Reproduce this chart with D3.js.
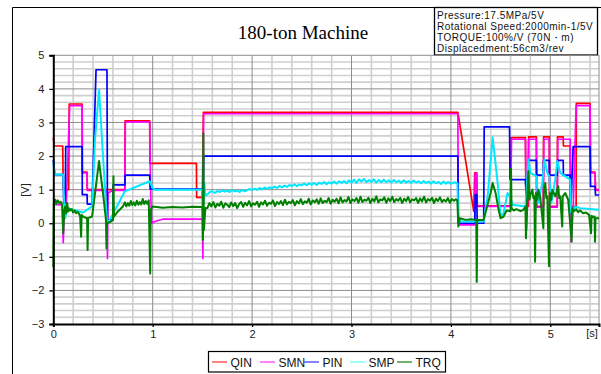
<!DOCTYPE html>
<head>
  <meta charset="utf-8">
  <script src="https://d3js.org/d3.v7.min.js"></script>
  <style>
  body { margin: 0; background: #fff; }
  svg { display: block; }
  .series { fill: none; stroke-linejoin: round; }
  .tick-label { font-family: "Liberation Sans", Arial, sans-serif; font-size: 11px; fill: #222; }
  .info { font-family: "Liberation Sans", Arial, sans-serif; font-size: 10px; letter-spacing: 0.5px; fill: #111; }
  .legend text { font-family: "Liberation Sans", Arial, sans-serif; font-size: 12px; fill: #111; }
  </style>
</head>
<body>
<svg width="601" height="374"></svg>

<script type="text/javascript">
// chart values
var title = "180-ton Machine";
var infoLines = [
  "Pressure:17.5MPa/5V",
  "Rotational Speed:2000min-1/5V",
  "TORQUE:100%/V (70N\u30FBm)",
  "Displacedment:56cm3/rev"
];
var seriesNames = ["QIN", "SMN", "PIN", "SMP", "TRQ"];
var seriesColors = ["#ff0000", "#ff00ff", "#0000ff", "#00e8ff", "#008000"];
var legendColors = ["#ff5a5a", "#ff5aff", "#5a5aff", "#7affff", "#3c9a3c"];
var yTicks = [-3, -2, -1, 0, 1, 2, 3, 4, 5];
var xTicks = [0, 1, 2, 3, 4, 5];

// [time s, volts]
var qin = [[0,2.55],[0.01,2.3],[0.095,2.3],[0.1,1.0],[0.155,1.0],[0.16,3.55],[0.29,3.55],[0.292,1.52],[0.34,1.52],[0.342,1.0],
  [0.72,1.0],[0.722,3.05],[0.97,3.05],[0.972,1.78],[1.44,1.78],[1.442,0.77],[1.5,0.77],[1.51,3.3],[4.07,3.3],[4.23,0.35],
  [4.24,1.5],[4.26,1.5],[4.265,0.52],[4.6,0.52],[4.605,2.55],[4.75,2.55],[4.755,0.5],[4.78,0.5],[4.782,2.57],[4.86,2.57],
  [4.862,0.5],[4.93,0.5],[4.932,2.57],[4.99,2.57],[4.992,0.5],[5.07,0.5],[5.072,2.57],[5.13,2.57],[5.132,2.3],[5.2,2.3],
  [5.205,0.5],[5.26,0.5],[5.262,3.57],[5.4,3.57],[5.405,1.52],[5.45,1.52],[5.455,1.0],[5.49,1.0]];
var smn = [[0,0.55],[0.09,0.55],[0.1,-0.58],[0.11,0.3],[0.13,0.5],[0.165,3.5],[0.29,3.5],[0.292,1.5],[0.34,1.5],[0.342,0.98],
  [0.54,0.98],[0.545,-1.05],[0.55,0.9],[0.6,0.98],[0.72,0.98],[0.725,3.02],[0.97,3.02],[0.98,0.8],[0.99,0.0],[1.02,0.05],
  [1.1,0.12],[1.5,0.12],[1.505,-1.05],[1.512,3.26],[4.07,3.26],[4.075,0.3],[4.08,-0.05],[4.24,-0.05],[4.245,1.48],[4.26,1.48],
  [4.265,0.5],[4.6,0.5],[4.61,2.5],[4.75,2.5],[4.76,-0.2],[4.77,0.5],[4.782,2.5],[4.86,2.5],[4.865,0.48],[4.93,0.48],
  [4.935,2.5],[4.99,2.5],[4.995,0.48],[5.07,0.48],[5.075,2.5],[5.2,2.5],[5.205,0.4],[5.21,-0.55],[5.23,0.4],[5.26,3.5],
  [5.4,3.5],[5.405,1.5],[5.45,1.5],[5.455,0.98],[5.49,0.98]];
var pin = [[0,1.88],[0.015,1.45],[0.1,1.45],[0.105,0.6],[0.12,0.6],[0.125,2.28],[0.29,2.28],[0.292,0.85],[0.34,0.85],[0.342,0.57],
  [0.39,0.57],[0.43,4.57],[0.54,4.57],[0.545,0.1],[0.6,0.1],[0.602,1.14],[0.72,1.14],[0.722,1.43],[0.97,1.43],[0.975,1.02],
  [1.5,1.02],[1.505,-0.05],[1.512,2.0],[4.07,2.0],[4.075,0.0],[4.24,0.0],[4.245,0.85],[4.26,0.85],[4.265,0.0],[4.33,0.0],
  [4.335,2.87],[4.59,2.87],[4.595,1.3],[4.75,1.3],[4.76,0.6],[4.78,1.87],[4.86,1.87],[4.862,1.43],[4.93,1.43],[4.932,1.87],
  [4.99,1.87],[4.992,1.43],[5.07,1.43],[5.072,1.87],[5.13,1.87],[5.132,1.43],[5.2,1.43],[5.205,0.3],[5.23,2.28],[5.4,2.28],
  [5.405,1.1],[5.45,1.1],[5.455,0.84],[5.49,0.84]];
var smp = [[0,1.8],[0.015,1.45],[0.1,1.45],[0.105,0.9],[0.12,0.15],[0.14,0.45],[0.2,0.4],[0.3,0.32],[0.39,0.5],[0.42,2.5],
  [0.46,3.97],[0.5,2.0],[0.54,0.1],[0.56,0.05],[0.72,0.95],[0.97,1.25],[1.0,1.05],[1.02,1.0],[1.5,1.0],[1.505,0.4],
  [1.52,1.2],[1.53,0.82],
  [1.55,0.86],[1.575,0.93],[1.6,0.95],[1.625,0.9],[1.65,0.96],[1.675,0.93],[1.7,0.98],[1.725,0.94],[1.75,0.97],[1.775,0.93],
  [1.8,0.99],[1.825,0.95],[1.85,0.97],[1.875,0.93],[1.9,0.99],[1.925,0.95],[1.95,0.98],[1.975,1.02],[2.0,0.99],[2.025,1.03],
  [2.05,0.99],[2.075,1.05],[2.1,1.01],[2.125,1.06],[2.15,1.02],[2.175,1.07],[2.2,1.04],[2.225,1.09],[2.25,1.05],[2.275,1.11],
  [2.3,1.07],[2.325,1.12],[2.35,1.08],[2.375,1.14],[2.4,1.11],[2.425,1.16],[2.45,1.1],[2.475,1.15],[2.5,1.13],[2.525,1.18],
  [2.55,1.13],[2.575,1.19],[2.6,1.15],[2.625,1.2],[2.65,1.14],[2.675,1.21],[2.7,1.17],[2.725,1.23],[2.75,1.16],[2.775,1.22],
  [2.8,1.18],[2.825,1.24],[2.85,1.18],[2.875,1.25],[2.9,1.2],[2.925,1.26],[2.95,1.19],[2.975,1.28],[3.0,1.21],[3.025,1.3],
  [3.05,1.2],[3.075,1.31],[3.1,1.24],[3.125,1.32],[3.15,1.22],[3.175,1.29],[3.2,1.23],[3.225,1.31],[3.25,1.21],[3.275,1.29],
  [3.3,1.22],[3.325,1.3],[3.35,1.22],[3.375,1.28],[3.4,1.21],[3.425,1.29],[3.45,1.22],[3.475,1.27],[3.5,1.2],[3.525,1.28],
  [3.55,1.21],[3.575,1.26],[3.6,1.2],[3.625,1.27],[3.65,1.21],[3.675,1.25],[3.7,1.19],[3.725,1.26],[3.75,1.2],[3.775,1.24],
  [3.8,1.18],[3.825,1.25],[3.85,1.19],[3.875,1.23],[3.9,1.17],[3.925,1.24],[3.95,1.18],[3.975,1.23],[4.0,1.17],[4.03,1.22],
  [4.065,1.19],[4.075,0.2],[4.09,0.05],[4.33,0.05],[4.37,0.8],[4.42,2.56],[4.47,1.2],[4.5,0.2],[4.53,0.3],[4.57,0.9],
  [4.6,0.75],[4.62,0.55],[4.75,0.5],[4.78,1.9],[4.8,1.5],[4.86,1.4],[4.88,0.6],[4.92,1.2],[4.94,1.9],[4.97,1.5],
  [4.99,1.4],[5.01,0.6],[5.05,1.3],[5.07,1.85],[5.1,1.5],[5.2,1.3],[5.21,0.3],[5.25,0.5],[5.3,0.45],[5.49,0.4]];
var trq = [[0,-1.3],[0.005,0.6],[0.02,0.7],[0.03,0.58],[0.045,0.68],[0.06,0.6],[0.075,0.64],[0.09,0.55],[0.1,-0.3],[0.11,0.35],
  [0.12,0.5],[0.13,0.3],[0.14,0.6],[0.15,0.35],[0.16,0.44],[0.17,0.38],[0.185,0.42],[0.2,0.32],[0.215,0.38],[0.23,0.3],
  [0.245,0.34],[0.26,0.28],[0.27,0.2],[0.28,-0.4],[0.285,0.25],[0.3,0.2],[0.32,0.17],[0.34,0.15],[0.345,-0.8],[0.35,0.15],
  [0.39,0.2],[0.42,0.9],[0.46,1.85],[0.5,0.9],[0.53,0.1],[0.535,-0.75],[0.54,0.0],[0.58,0.05],[0.6,0.1],[0.605,1.4],
  [0.61,0.2],[0.65,0.35],[0.7,0.5],[0.72,0.62],[0.735,0.5],[0.75,0.6],[0.765,0.52],[0.78,0.66],[0.795,0.54],[0.81,0.62],
  [0.825,0.53],[0.84,0.67],[0.855,0.55],[0.87,0.63],[0.885,0.56],[0.9,0.72],[0.915,0.57],[0.93,0.66],[0.945,0.58],[0.96,0.68],
  [0.975,-1.5],[0.98,0.4],[1.0,0.5],[1.1,0.46],[1.2,0.48],[1.3,0.47],[1.4,0.49],[1.5,0.48],[1.505,-0.5],[1.51,2.68],
  [1.515,-0.2],[1.53,0.45],
  [1.55,0.45],[1.57,0.6],[1.59,0.5],[1.61,0.63],[1.63,0.47],[1.65,0.58],[1.67,0.52],[1.69,0.64],[1.71,0.46],[1.73,0.59],
  [1.75,0.55],[1.77,0.48],[1.79,0.62],[1.81,0.51],[1.83,0.6],[1.85,0.45],[1.87,0.57],[1.89,0.63],[1.91,0.49],[1.93,0.61],
  [1.95,0.53],[1.97,0.66],[1.99,0.5],[2.01,0.59],[2.03,0.55],[2.05,0.64],[2.07,0.49],[2.09,0.62],[2.11,0.56],[2.13,0.67],
  [2.15,0.52],[2.17,0.61],[2.19,0.58],[2.21,0.68],[2.23,0.51],[2.25,0.63],[2.27,0.57],[2.29,0.66],[2.31,0.54],[2.33,0.7],
  [2.35,0.56],[2.37,0.64],[2.39,0.6],[2.41,0.69],[2.43,0.53],[2.45,0.66],[2.47,0.59],[2.49,0.72],[2.51,0.57],[2.53,0.65],
  [2.55,0.61],[2.57,0.73],[2.59,0.56],[2.61,0.68],[2.63,0.62],[2.65,0.71],[2.67,0.58],[2.69,0.74],[2.71,0.6],[2.73,0.67],
  [2.75,0.63],[2.77,0.75],[2.79,0.58],[2.81,0.7],[2.83,0.64],[2.85,0.73],[2.87,0.59],[2.89,0.77],[2.91,0.62],[2.93,0.69],
  [2.95,0.65],[2.97,0.78],[2.99,0.6],[3.01,0.71],[3.03,0.66],[3.05,0.75],[3.07,0.61],[3.09,0.79],[3.11,0.63],[3.13,0.7],
  [3.15,0.67],[3.17,0.76],[3.19,0.6],[3.21,0.73],[3.23,0.65],[3.25,0.8],[3.27,0.62],[3.29,0.71],[3.31,0.68],[3.33,0.77],
  [3.35,0.61],[3.37,0.74],[3.39,0.66],[3.41,0.79],[3.43,0.63],[3.45,0.72],[3.47,0.67],[3.49,0.76],[3.51,0.6],[3.53,0.73],
  [3.55,0.66],[3.57,0.78],[3.59,0.62],[3.61,0.71],[3.63,0.68],[3.65,0.75],[3.67,0.61],[3.69,0.74],[3.71,0.65],[3.73,0.79],
  [3.75,0.62],[3.77,0.72],[3.79,0.67],[3.81,0.76],[3.83,0.6],[3.85,0.73],[3.87,0.66],[3.89,0.77],[3.91,0.63],[3.93,0.7],
  [3.95,0.65],[3.97,0.75],[3.99,0.61],[4.01,0.72],[4.03,0.67],[4.05,0.71],[4.065,0.68],
  [4.075,-0.1],[4.09,0.15],[4.15,0.1],[4.2,0.12],[4.255,0.1],[4.26,-1.75],[4.265,0.1],[4.33,0.1],[4.36,0.45],[4.4,0.9],
  [4.42,1.2],[4.45,0.9],[4.48,0.4],[4.5,0.15],[4.53,0.2],[4.56,0.38],[4.6,0.36],[4.605,1.62],[4.61,0.45],[4.63,0.38],
  [4.66,0.42],[4.7,0.36],[4.73,0.4],[4.75,0.5],[4.755,-0.45],[4.77,0.9],[4.78,1.55],[4.79,0.7],[4.8,0.85],[4.82,1.0],
  [4.83,0.75],[4.84,0.8],[4.847,-1.15],[4.855,0.9],[4.87,0.7],[4.88,1.0],[4.9,0.75],[4.93,-0.15],[4.935,0.9],[4.95,1.2],
  [4.96,0.75],[4.97,0.8],[4.987,-1.28],[4.995,0.9],[5.01,0.7],[5.02,1.0],[5.05,0.8],[5.08,1.1],[5.09,0.75],[5.1,0.8],
  [5.12,-0.1],[5.125,0.8],[5.15,0.9],[5.18,0.7],[5.215,-0.55],[5.22,0.45],[5.24,0.36],[5.26,0.42],[5.28,0.33],[5.3,0.38],
  [5.33,0.3],[5.36,0.32],[5.39,0.25],[5.41,-0.3],[5.415,0.22],[5.43,0.18],[5.445,0.2],[5.45,-0.55],[5.455,0.15],[5.49,0.15]];
var seriesData = [qin, smn, pin, smp, trq];

var svg = d3.select("svg");

var x = d3.scaleLinear().domain([0, 5.49]).range([53.3, 599]);
var y = d3.scaleLinear().domain([-3, 5]).range([324, 55.3]);

// outer frame (runs off the right and bottom of the shot)
svg.append("path")
    .attr("d", "M12.5,380V7.5H610")
    .attr("fill", "none").attr("stroke", "#000").attr("stroke-width", 1);

svg.append("text")
    .attr("x", 303).attr("y", 39)
    .attr("text-anchor", "middle")
    .style("font-family", "'Liberation Serif', 'Times New Roman', serif")
    .style("font-size", "19px")
    .text(title);

// info box in the corner
svg.append("rect")
    .attr("x", 434.5).attr("y", 7.5).attr("width", 163).attr("height", 47.5)
    .attr("fill", "#fff").attr("stroke", "#000").attr("stroke-width", 1.3);
svg.selectAll(".info").data(infoLines).enter().append("text")
    .attr("class", "info")
    .attr("x", 437).attr("y", function(d, i) { return 18.5 + i * 11.3; })
    .text(function(d) { return d; });

// grid
var minorX = d3.range(0.2, 5.49, 0.2).filter(function(d) { return Math.abs(d - Math.round(d)) > 0.01; });
var minorY = d3.range(-2.8, 5, 0.2).filter(function(d) { return Math.abs(d - Math.round(d)) > 0.01; });
var grid = svg.append("g");
grid.selectAll(".mx").data(minorX).enter().append("line")
    .attr("x1", x).attr("x2", x).attr("y1", y(5)).attr("y2", y(-3))
    .attr("stroke", "#cfcfcf").attr("stroke-width", 1.6);
grid.selectAll(".my").data(minorY).enter().append("line")
    .attr("x1", x(0)).attr("x2", x(5.49)).attr("y1", y).attr("y2", y)
    .attr("stroke", "#cfcfcf").attr("stroke-width", 1.6);
grid.selectAll(".Mx").data(xTicks.slice(1)).enter().append("line")
    .attr("x1", x).attr("x2", x).attr("y1", y(5)).attr("y2", y(-3))
    .attr("stroke", "#8c8c8c").attr("stroke-width", 1);
grid.selectAll(".My").data(yTicks.slice(1)).enter().append("line")
    .attr("x1", x(0)).attr("x2", x(5.49)).attr("y1", y).attr("y2", y)
    .attr("stroke", "#8c8c8c").attr("stroke-width", 1);
grid.append("line")
    .attr("x1", x(5.49)).attr("x2", x(5.49)).attr("y1", y(5)).attr("y2", y(-3))
    .attr("stroke", "#8c8c8c").attr("stroke-width", 1);

// the five traces
var line = d3.line()
    .x(function(d) { return x(d[0]); })
    .y(function(d) { return y(d[1]); });

svg.append("g").selectAll("path").data(seriesData).enter().append("path")
    .attr("class", "series")
    .attr("d", line)
    .attr("stroke", function(d, i) { return seriesColors[i]; })
    .attr("stroke-width", function(d, i) { return i >= 3 ? 2 : 1.7; });

// axes
var yAxis = svg.append("g")
    .attr("transform", "translate(" + x(0) + ",0)")
    .call(d3.axisLeft(y).tickValues(yTicks).tickSize(4).tickPadding(5));
var xAxis = svg.append("g")
    .attr("transform", "translate(0," + y(-3) + ")")
    .call(d3.axisBottom(x).tickValues(xTicks).tickFormat(d3.format("d")).tickSize(3).tickPadding(3));
[yAxis, xAxis].forEach(function(a) {
  a.select(".domain").attr("stroke", "#000").attr("stroke-width", 2);
  a.selectAll(".tick line").attr("stroke", "#000").attr("stroke-width", 1.3);
  a.selectAll(".tick text").attr("class", "tick-label").style("font-family", null).style("font-size", null);
  a.attr("font-family", null).attr("font-size", null);
});

svg.append("text")
    .attr("class", "tick-label")
    .attr("x", 592).attr("y", 337)
    .attr("text-anchor", "middle")
    .text("[s]");
svg.append("text")
    .attr("class", "tick-label")
    .attr("transform", "translate(29,190) rotate(-90)")
    .attr("text-anchor", "middle")
    .text("[V]");

// legend
var legendX = [212, 260, 304, 350, 397];
var legend = svg.append("g").attr("class", "legend");
legend.append("rect")
    .attr("x", 208.5).attr("y", 351.5).attr("width", 237).attr("height", 20.5)
    .attr("fill", "#fff").attr("stroke", "#000").attr("stroke-width", 1.2);
var item = legend.selectAll(".item").data(seriesNames).enter().append("g")
    .attr("transform", function(d, i) { return "translate(" + legendX[i] + ",362)"; });
item.append("line")
    .attr("x1", 0).attr("x2", 15)
    .attr("stroke", function(d, i) { return legendColors[i]; })
    .attr("stroke-width", 1.5);
item.append("text")
    .attr("x", 18.5).attr("y", 4.5)
    .text(function(d) { return d; });
</script>

</body>
</html>
